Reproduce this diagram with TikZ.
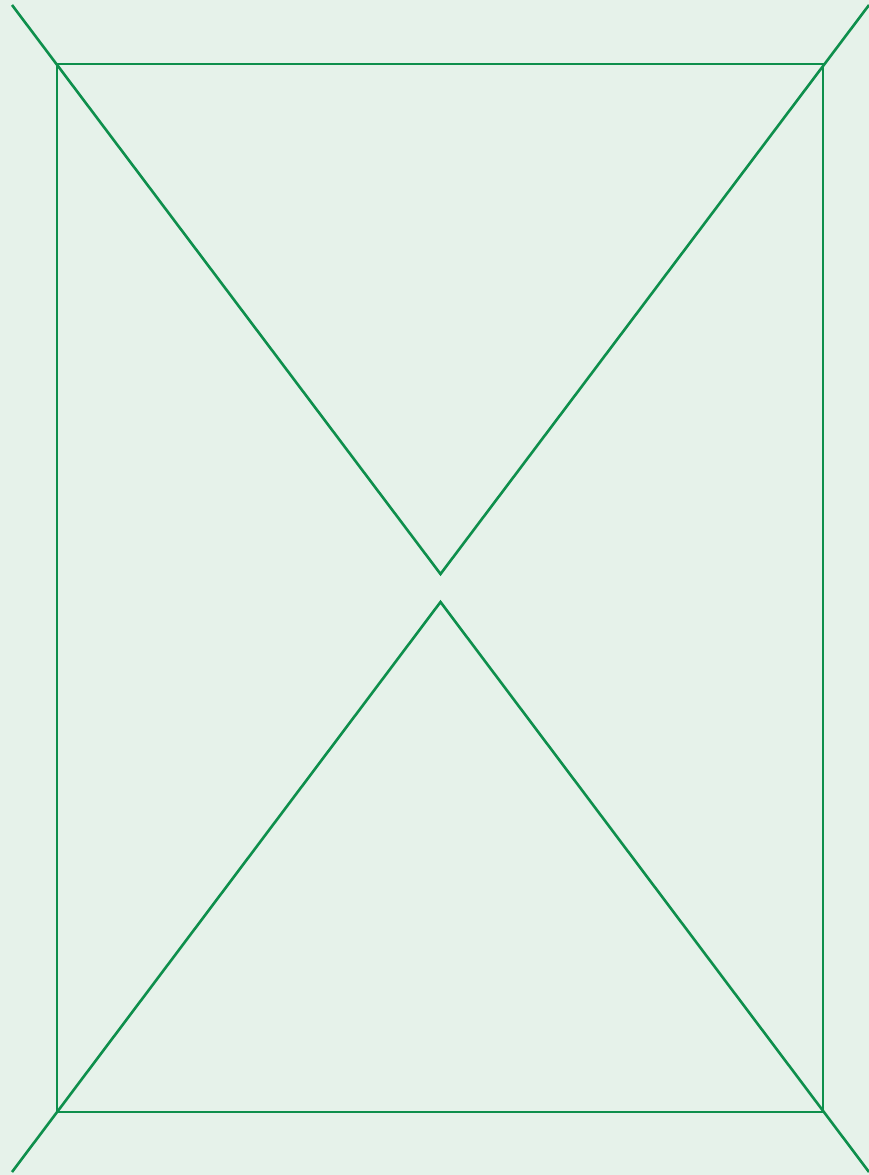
\documentclass[tikz,border=0pt]{standalone}
\definecolor{bg}{HTML}{E6F2EA}
\definecolor{ln}{HTML}{0E8F4C}
\begin{document}
\begin{tikzpicture}[x=1pt,y=-1pt,line width=2.6pt,
  edge/.style={draw=ln,line join=miter}]
\fill[bg] (0,0) rectangle (869,1175);
\useasboundingbox (0,0) rectangle (869,1175);
\coordinate (tl) at (57,64);
\coordinate (tr) at (823,64);
\coordinate (bl) at (57,1112);
\coordinate (br) at (823,1112);
\coordinate (ta) at (440.5,574);
\coordinate (ba) at (440.5,602);
\coordinate (otl) at (12,5);
\coordinate (otr) at (869,5);
\coordinate (obl) at (12,1172);
\coordinate (obr) at (869,1172);
\draw[edge] (tl) -- (tr) -- (br) -- (bl) -- cycle;
\draw[edge] (otl) -- (ta) -- (otr);
\draw[edge] (obl) -- (ba) -- (obr);
\end{tikzpicture}
\end{document}
